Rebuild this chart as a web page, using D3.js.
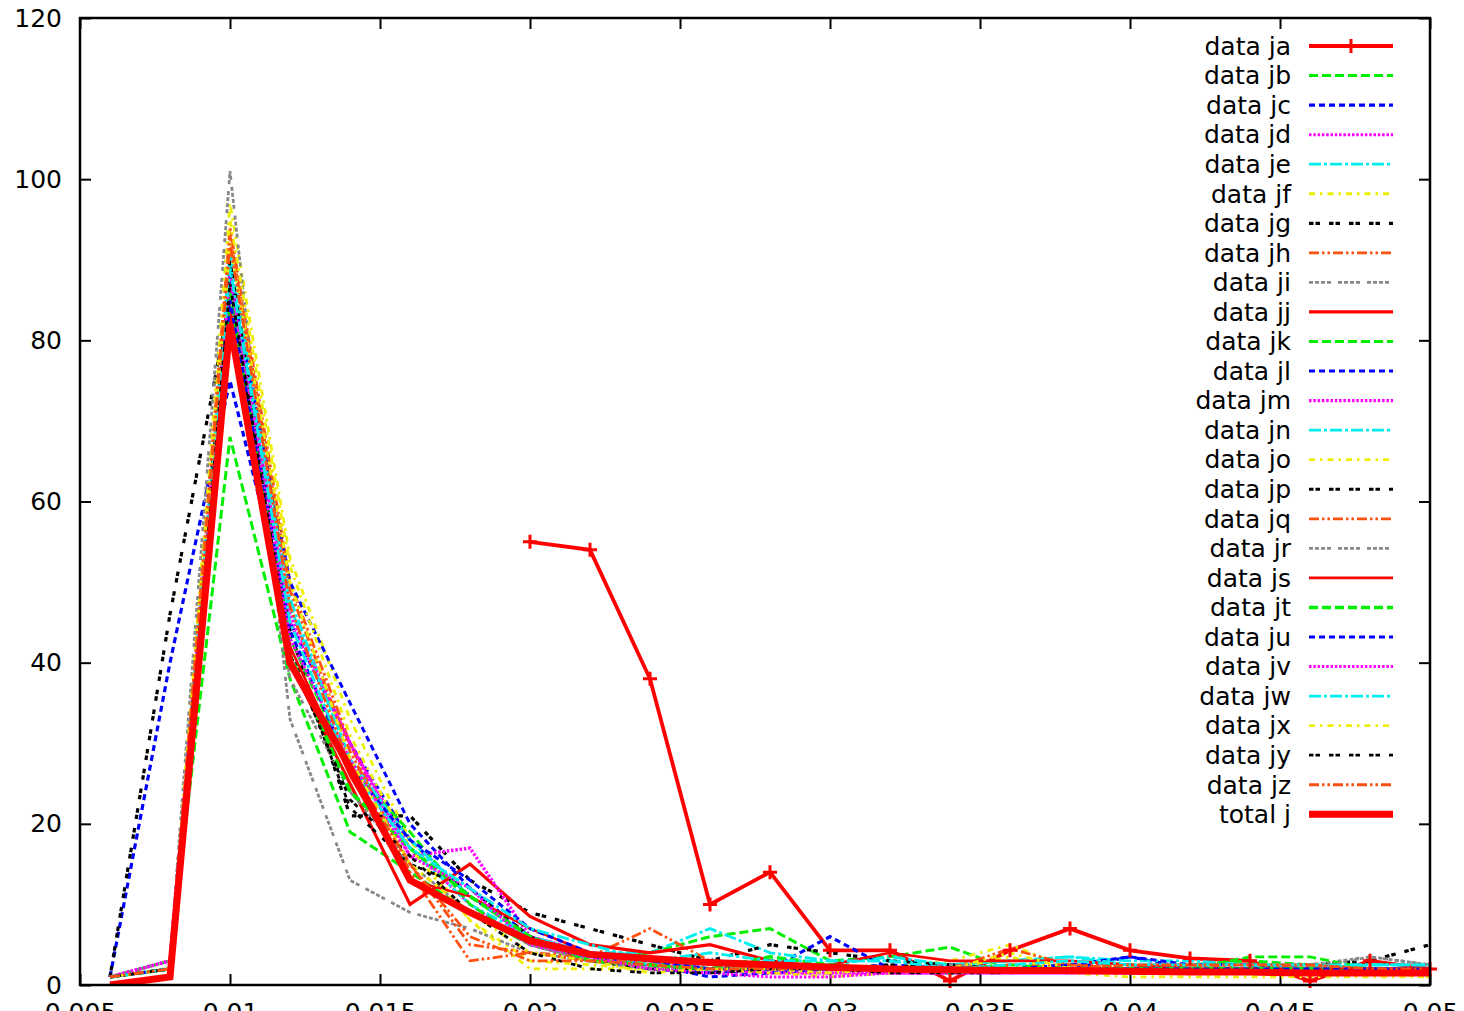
<!DOCTYPE html>
<html>
<head>
<meta charset="utf-8">
<script src="https://cdn.jsdelivr.net/npm/d3@7"></script>
<style>
  html, body { margin: 0; padding: 0; background: #fff; overflow: hidden; }
  svg { display: block; }
  text { font-family: "DejaVu Sans", sans-serif; }
</style>
</head>
<body>
<svg id="chart" width="1464" height="1011"></svg>
<script>
// ---------- data ----------
const xValues = [0.006, 0.008, 0.010, 0.012, 0.014, 0.016, 0.018, 0.020, 0.022, 0.024, 0.026, 0.028,
                 0.030, 0.032, 0.034, 0.036, 0.038, 0.040, 0.042, 0.044, 0.046, 0.048, 0.050];

const seriesNames = ["data ja","data jb","data jc","data jd","data je","data jf","data jg","data jh","data ji",
  "data jj","data jk","data jl","data jm","data jn","data jo","data jp","data jq","data jr",
  "data js","data jt","data ju","data jv","data jw","data jx","data jy","data jz","total j"];

const ja = [null, null, null, null, null, null, null, 55, 54, 38, 10, 14, 4.3, 4.3, 0.5, 4.3, 7, 4.3, 3.3, 3, 0.5, 3, 2];
const jb = [1, 3, 68, 38, 19, 14, 9, 5, 3, 4, 6, 7, 3, 3.5, 4.7, 2, 2.5, 2, 2.5, 3, 2.5, 2, 1.5];
const jc = [1, 40, 75, 45, 30, 18, 11, 6, 3, 2, 1.5, 2, 6, 2, 2.5, 2, 2, 3.5, 2, 2, 2, 1.5, 1.5];
const jd = [1, 3, 89, 45, 30, 17, 10, 5, 3, 2.5, 2, 1.5, 1.5, 1.5, 1.5, 1.5, 1.5, 1.5, 1.5, 1.5, 1.5, 1.5, 1.5];
const je = [1, 2, 91, 48, 28, 17, 10, 6, 4, 4, 7, 4, 3, 3, 2.5, 3, 3.5, 3, 3, 2.5, 2.5, 2.5, 2.5];
const jf = [1, 2, 97, 53, 33, 18, 8, 3, 2.5, 2, 2, 1.5, 1.5, 2, 3, 5, 2, 1.5, 1.5, 1.5, 1.5, 1.5, 1];
const jg = [1, 46, 85, 44, 21, 21, 13, 9, 7, 5, 3, 5, 4, 3, 2.5, 2, 2, 2, 2, 2, 2.5, 3, 5];
const jh = [1, 2, 94, 50, 30, 14, 3, 4, 3.5, 7, 3, 2.5, 2, 2, 2, 2.5, 2.5, 2.5, 2.5, 2.5, 2.5, 2, 2];
const ji = [1, 3, 101, 33, 13, 9, 7, 4, 3, 2.5, 2, 2, 2, 2, 2, 2, 2, 2, 2.5, 2.5, 2.5, 3.5, 2.5];
const jj = [0, 1, 84, 40, 25, 10, 15, 8.5, 5, 4, 5, 3, 2, 2, 2, 2, 2, 2, 2, 1.5, 1.5, 1.5, 1.5];
const jk = [1, 2, 88, 43, 27, 19, 10, 5, 3.5, 3, 2, 2, 2, 2, 2, 2.5, 2, 2, 2, 3.5, 3.5, 2, 2];
const jl = [1, 2, 88, 50, 35, 20, 12, 6, 3.5, 2.5, 1, 1.5, 2, 2.5, 2, 2, 2.5, 3.5, 2.5, 2.5, 2, 2, 2];
const jm = [1, 3, 87, 46, 30, 16, 17, 6, 4, 3, 2, 1.5, 1.5, 1.5, 1.5, 2, 2, 1.5, 1.5, 1.5, 1.5, 1.5, 1.5];
const jn = [1, 2, 90, 47, 28, 18, 11, 6, 4, 2.5, 2, 2.5, 2.5, 3.5, 2.5, 3, 3.5, 2.5, 2.5, 2.5, 2, 2.5, 2.5];
const jo = [1, 2, 95, 52, 31, 17, 8, 2, 2, 2, 2, 1.5, 1, 1.5, 2, 3.5, 1.5, 1, 1, 1, 1, 1, 1];
const jp = [1, 2, 90, 42, 22, 15, 12, 6, 3, 2, 2, 3, 2, 2.5, 2, 2, 1.5, 2, 1.5, 2, 1.5, 1.5, 1.5];
const jq = [1, 2, 93, 49, 29, 15, 5, 4, 3, 3, 2.5, 2, 2, 2, 2, 4.5, 2.5, 2, 2.5, 2, 2.5, 2, 2];
const jr = [1, 3, 86, 38, 24, 15, 9, 5, 3, 2, 2, 2, 2, 2, 2.5, 2, 2, 2, 2, 2, 2, 3.5, 2.5];
const js = [0, 1, 83, 42, 26, 13, 11, 7, 4, 3, 3, 2, 2.5, 4, 3, 3, 3, 2.5, 2, 2, 2, 2, 2];
const jt = [1, 2, 86, 41, 24, 17, 11, 6, 3, 2.5, 2, 3.5, 2.5, 2, 1.5, 2, 2, 2, 2, 2, 2, 1.5, 1.5];
const ju = [1, 2, 85, 44, 27, 18, 13, 7, 4, 3, 2, 2, 2, 2, 2, 2, 2, 2, 2, 2, 2, 2, 2];
const jv = [1, 3, 88, 43, 28, 16, 12, 5, 3.5, 2, 1.5, 1, 1, 1.5, 1.5, 1.5, 1.5, 1.5, 1.5, 1.5, 1.5, 1.5, 1.5];
const jw = [1, 2, 89, 45, 27, 17, 12, 7, 5, 3, 4, 3, 3, 3, 2, 2.5, 3, 2.5, 2.5, 2.5, 2.5, 2.5, 2.5];
const jx = [1, 2, 92, 50, 28, 15, 9, 4, 3, 1.5, 2, 2, 1.5, 2, 2, 4, 2, 1.5, 1.5, 1.5, 1.5, 1.5, 1.5];
const jy = [1, 2, 87, 41, 23, 16, 9, 4, 2, 1.5, 1.5, 2, 2, 1.5, 1.5, 1.5, 2, 1.5, 1.5, 1.5, 1.5, 1.5, 1.5];
const jz = [1, 2, 92, 47, 27, 15, 6, 3, 3, 2.5, 2, 2, 2, 2, 2, 2, 2, 2.5, 2.5, 2.5, 2.5, 2, 2];
const totalJ = [0, 1, 82, 40, 27, 13, 9, 5.5, 3.8, 3.3, 2.8, 2.5, 2.2, 2, 1.9, 1.8, 1.8, 1.7, 1.6, 1.6, 1.5, 1.5, 1.5];

const seriesValues = [ja, jb, jc, jd, je, jf, jg, jh, ji, jj, jk, jl, jm, jn, jo, jp, jq, jr, js, jt, ju, jv, jw, jx, jy, jz, totalJ];

const xTickValues = [0.005, 0.01, 0.015, 0.02, 0.025, 0.03, 0.035, 0.04, 0.045, 0.05];
const xTickLabels = ["0.005", "0.01", "0.015", "0.02", "0.025", "0.03", "0.035", "0.04", "0.045", "0.05"];
const yTickValues = [0, 20, 40, 60, 80, 100, 120];

// ---------- styles (gnuplot line types) ----------
const typeColors = ["#ff0000", "#00ee00", "#0000ff", "#ff00ff", "#00eeee", "#eeee00", "#000000", "#ff5010", "#888888"];
const typeDashes = ["none", "9,4", "6,4", "2.5,1.8", "12,3,3,3", "6,5,2.5,5", "4.5,2,4.5,9", "10,3,2.5,3,2.5,3", "4,2,4,2,4,2,4,7"];
// line type of each series (ja..jz cycle through 9 types; total j is solid red)
const seriesTypes = [0, 1, 2, 3, 4, 5, 6, 7, 8, 0, 1, 2, 3, 4, 5, 6, 7, 8, 0, 1, 2, 3, 4, 5, 6, 7, 0];
const lineWidths = [3.8, 3.0, 3.2, 3.0, 2.8, 2.8, 3.2, 2.8, 2.8,
                    3.2, 2.8, 3.0, 3.4, 2.8, 2.8, 2.8, 2.8, 2.8,
                    2.6, 3.6, 3.0, 3.0, 2.8, 2.8, 2.8, 2.8, 7];

// ---------- layout ----------
const W = 1464, H = 1011;
const margin = { left: 80, right: 34, top: 18, bottom: 26 };
const x0 = margin.left, x1 = W - margin.right, y0 = margin.top, y1 = H - margin.bottom;

const svg = d3.select("#chart");
const x = d3.scaleLinear().domain([0.005, 0.05]).range([x0, x1]);
const y = d3.scaleLinear().domain([0, 120]).range([y1, y0]);

svg.append("defs").append("clipPath").attr("id", "plotclip")
  .append("rect").attr("x", x0).attr("y", y0).attr("width", x1 - x0).attr("height", y1 - y0);

const fontSize = 25;

// axes
const tickLen = 11;
function styleAxis(g) {
  g.select(".domain").remove();
  g.selectAll(".tick line").attr("stroke", "#000").attr("stroke-width", 2);
  g.selectAll(".tick text").attr("fill", "#000").style("font-size", fontSize + "px")
    .style("font-family", "'DejaVu Sans', sans-serif");
}
svg.append("g").attr("transform", `translate(0,${y1})`)
  .call(d3.axisBottom(x).tickValues(xTickValues).tickFormat((d, i) => xTickLabels[i]).tickSize(-tickLen).tickPadding(18))
  .call(styleAxis);
svg.append("g").attr("transform", `translate(0,${y0})`)
  .call(d3.axisTop(x).tickValues(xTickValues).tickFormat("").tickSize(-tickLen))
  .call(styleAxis);
svg.append("g").attr("transform", `translate(${x0},0)`)
  .call(d3.axisLeft(y).tickValues(yTickValues).tickSize(-tickLen).tickPadding(18))
  .call(styleAxis);
svg.append("g").attr("transform", `translate(${x1},0)`)
  .call(d3.axisRight(y).tickValues(yTickValues).tickFormat("").tickSize(-tickLen))
  .call(styleAxis);

// series
const line = d3.line()
  .defined(d => d.v !== null)
  .x(d => x(d.x))
  .y(d => y(d.v));

const plot = svg.append("g").attr("clip-path", "url(#plotclip)");

seriesValues.forEach((vals, i) => {
  const t = seriesTypes[i];
  const data = xValues.map((xv, k) => ({ x: xv, v: vals[k] }));
  const p = plot.append("path")
    .datum(data)
    .attr("d", line)
    .attr("fill", "none")
    .attr("stroke", typeColors[t])
    .attr("stroke-width", lineWidths[i])
    .attr("stroke-linejoin", "miter")
    .attr("stroke-linecap", "butt");
  if (typeDashes[t] !== "none") p.attr("stroke-dasharray", typeDashes[t]);
});

// markers for ja
const markSize = 7;
svg.append("g").selectAll("path")
  .data(xValues.map((xv, k) => ({ x: xv, v: ja[k] })).filter(d => d.v !== null))
  .join("path")
  .attr("d", d => {
    const cx = x(d.x), cy = y(d.v);
    return `M${cx - markSize},${cy}H${cx + markSize}M${cx},${cy - markSize}V${cy + markSize}`;
  })
  .attr("stroke", typeColors[0])
  .attr("stroke-width", 3)
  .attr("fill", "none");

// frame
svg.append("rect")
  .attr("x", x0).attr("y", y0).attr("width", x1 - x0).attr("height", y1 - y0)
  .attr("fill", "none").attr("stroke", "#000").attr("stroke-width", 2.5);

// legend
const legX = 1291, legLineX0 = 1309, legLineX1 = 1393, legY0 = 46, legDy = 29.55;
const leg = svg.append("g");
seriesNames.forEach((name, i) => {
  const t = seriesTypes[i];
  const cy = legY0 + i * legDy;
  leg.append("text")
    .attr("x", legX).attr("y", cy)
    .attr("dy", "0.35em")
    .attr("text-anchor", "end")
    .style("font-size", fontSize + "px")
    .attr("fill", "#000")
    .text(name);
  const l = leg.append("line")
    .attr("x1", legLineX0).attr("x2", legLineX1)
    .attr("y1", cy).attr("y2", cy)
    .attr("stroke", typeColors[t])
    .attr("stroke-width", lineWidths[i]);
  if (typeDashes[t] !== "none") l.attr("stroke-dasharray", typeDashes[t]);
  if (i === 0) {
    const mx = (legLineX0 + legLineX1) / 2;
    leg.append("path")
      .attr("d", `M${mx - markSize},${cy}H${mx + markSize}M${mx},${cy - markSize}V${cy + markSize}`)
      .attr("stroke", typeColors[0]).attr("stroke-width", 3);
  }
});
</script>
</body>
</html>
